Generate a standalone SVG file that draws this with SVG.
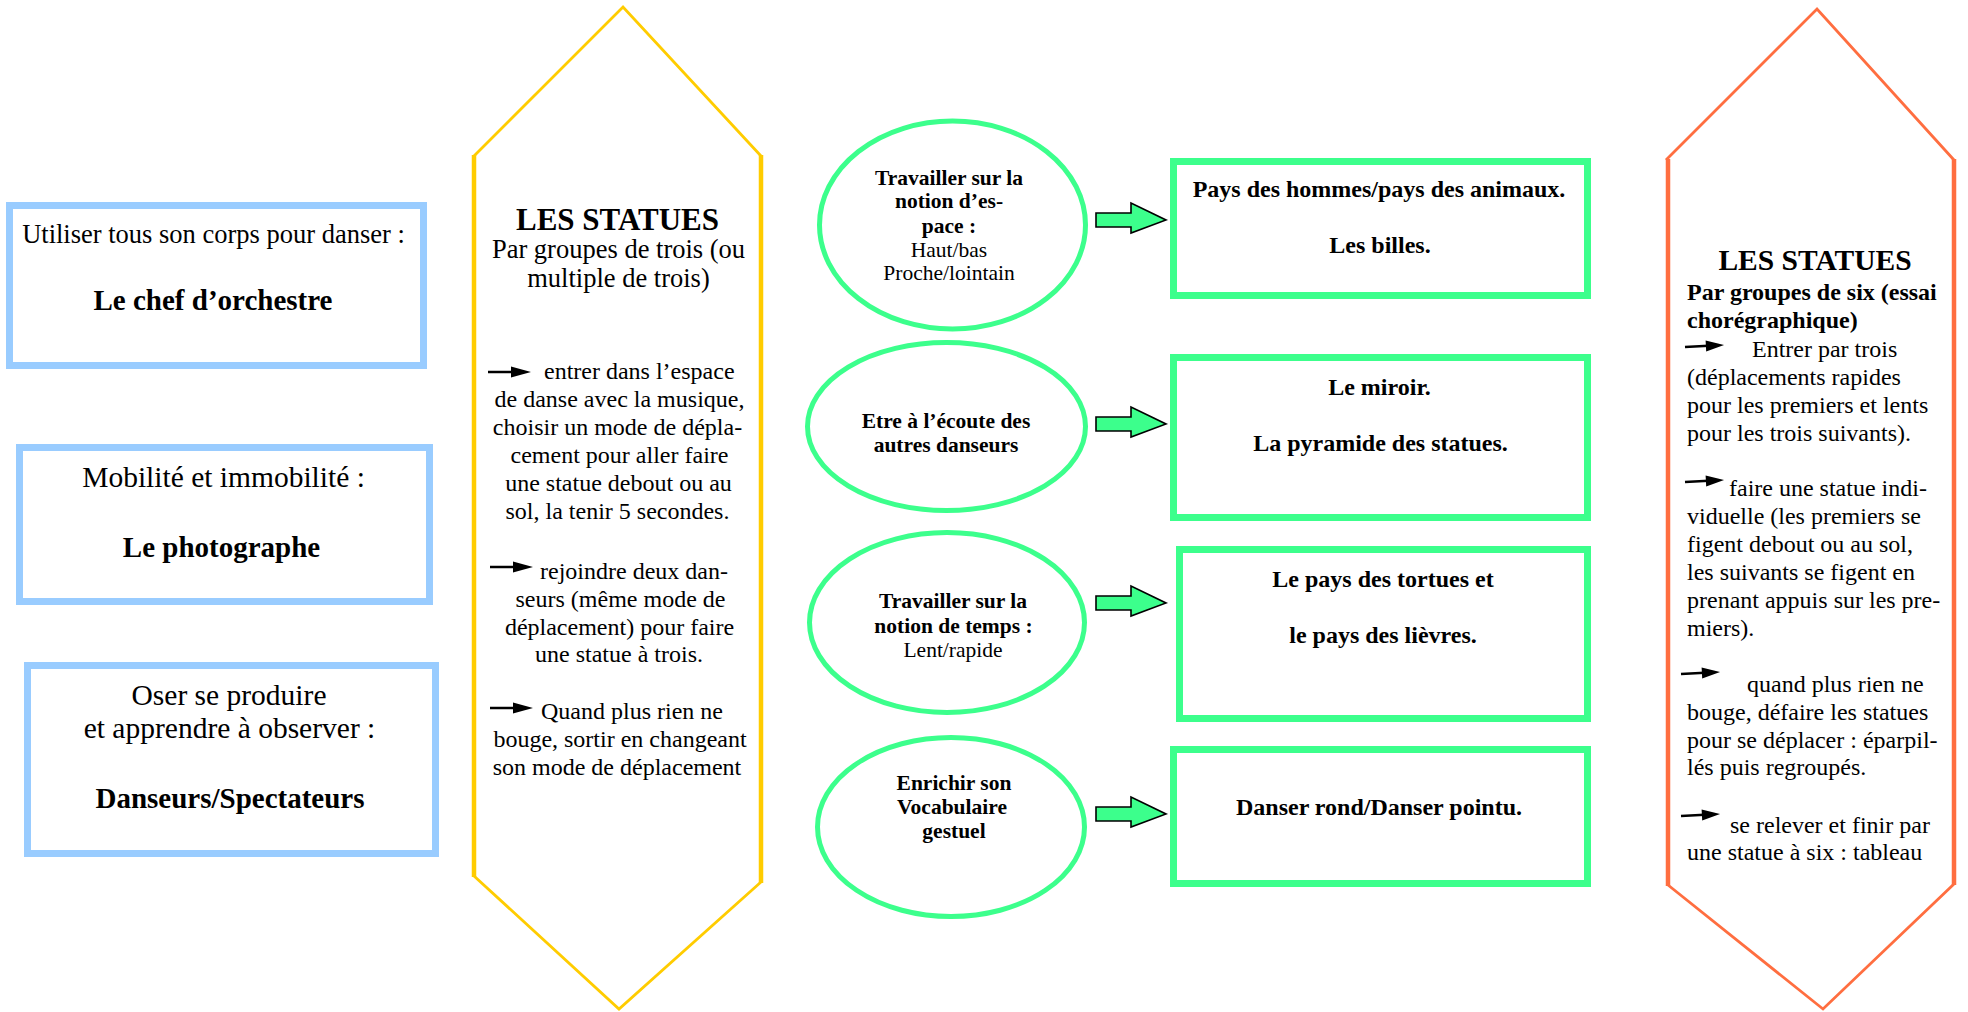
<svg xmlns="http://www.w3.org/2000/svg" xmlns:xlink="http://www.w3.org/1999/xlink" width="1968" height="1012" viewBox="0 0 1968 1012">
<style>
text{font-family:"Liberation Serif","Times New Roman",serif;fill:#000}
.b{font-weight:bold}
.m{text-anchor:middle}
.blue{fill:#fff;stroke:#99CCFF;stroke-width:7}
.grn{fill:#fff;stroke:#3CFF8C;stroke-width:7}
.ell{fill:#fff;stroke:#3CFF8C;stroke-width:5}
.yel{fill:none;stroke:#FFCC00}
.org{fill:none;stroke:#FF6E40}
.ba{fill:#3CFF8C;stroke:#000;stroke-width:1.6;stroke-linejoin:miter}
.t24{font-size:24px}
.t21{font-size:21.5px}
</style>
<defs>
<path id="barrow" d="M0,-7 H35 V-17 L70,0 L35,13 V7 H0 Z"/>
<g id="tarrow"><line x1="0" y1="0" x2="26" y2="0" stroke="#000" stroke-width="2.5"/><polygon points="23,-5.5 43,0 23,5.5" fill="#000"/></g>
</defs>
<rect width="1968" height="1012" fill="#fff"/>

<g id="box1">
<rect class="blue" x="9.5" y="205.5" width="414" height="160"/>
<text class="m" x="213.5" y="243" font-size="26.5">Utiliser tous son corps pour danser :</text>
<text class="m b" x="213" y="310" font-size="29">Le chef d’orchestre</text>
</g>
<g id="box2">
<rect class="blue" x="19.5" y="447.5" width="410" height="154"/>
<text class="m" x="223.5" y="487" font-size="29.5">Mobilité et immobilité :</text>
<text class="m b" x="221.5" y="557" font-size="29">Le photographe</text>
</g>
<g id="box3">
<rect class="blue" x="27.5" y="665.5" width="408" height="188"/>
<text class="m" x="229" y="705" font-size="29.5">Oser se produire</text>
<text class="m" x="229.5" y="738" font-size="29.5">et apprendre à observer :</text>
<text class="m b" x="230" y="808" font-size="29">Danseurs/Spectateurs</text>
</g>

<g id="hex-left">
<polyline class="yel" stroke-width="2.8" points="474,156 623,7 761,156"/>
<polyline class="yel" stroke-width="2.8" points="474,876 619,1009 761,882"/>
<line class="yel" stroke-width="4.5" x1="474" y1="155" x2="474" y2="877"/>
<line class="yel" stroke-width="4.5" x1="761" y1="155" x2="761" y2="883"/>
<text class="m b" x="617.5" y="230" font-size="31">LES STATUES</text>
<text class="m" x="618.5" y="258" font-size="26.5">Par groupes de trois (ou</text>
<text class="m" x="618.5" y="287" font-size="26.5">multiple de trois)</text>
<g class="t24">
<use xlink:href="#tarrow" x="488" y="372"/>
<text x="544" y="379">entrer dans l’espace</text>
<text class="m" x="619.5" y="407">de danse avec la musique,</text>
<text class="m" x="617.5" y="435">choisir un mode de dépla-</text>
<text class="m" x="619.5" y="463">cement pour aller faire</text>
<text class="m" x="618.5" y="491">une statue debout ou au</text>
<text class="m" x="617.5" y="519">sol, la tenir 5 secondes.</text>
<use xlink:href="#tarrow" x="490" y="567"/>
<text x="540" y="579">rejoindre deux dan-</text>
<text class="m" x="620.5" y="607">seurs (même mode de</text>
<text class="m" x="619.5" y="635">déplacement) pour faire</text>
<text class="m" x="619" y="662">une statue à trois.</text>
<use xlink:href="#tarrow" x="490" y="708"/>
<text x="541" y="719">Quand plus rien ne</text>
<text class="m" x="620" y="747">bouge, sortir en changeant</text>
<text class="m" x="617" y="775">son mode de déplacement</text>
</g>
</g>

<g id="ellipse1">
<ellipse class="ell" cx="952.5" cy="225" rx="133" ry="104"/>
<text class="m b t21" x="949" y="185">Travailler sur la</text>
<text class="m b t21" x="949" y="208">notion d’es-</text>
<text class="m b t21" x="949" y="233">pace :</text>
<text class="m t21" x="949" y="257">Haut/bas</text>
<text class="m t21" x="949" y="280">Proche/lointain</text>
</g>
<g id="ellipse2">
<ellipse class="ell" cx="946.5" cy="426.5" rx="139" ry="84"/>
<text class="m b t21" x="946" y="428">Etre à l’écoute des</text>
<text class="m b t21" x="946" y="452">autres danseurs</text>
</g>
<g id="ellipse3">
<ellipse class="ell" cx="947" cy="622.5" rx="137.5" ry="90"/>
<text class="m b t21" x="953" y="608">Travailler sur la</text>
<text class="m b t21" x="953.5" y="633">notion de temps :</text>
<text class="m t21" x="953" y="657">Lent/rapide</text>
</g>
<g id="ellipse4">
<ellipse class="ell" cx="951" cy="827" rx="133.5" ry="89.5"/>
<text class="m b t21" x="954" y="790">Enrichir son</text>
<text class="m b t21" x="952" y="814">Vocabulaire</text>
<text class="m b t21" x="954" y="838">gestuel</text>
</g>

<g id="rect1">
<rect class="grn" x="1173.5" y="161.5" width="414" height="134"/>
<text class="m b t24" x="1379" y="197">Pays des hommes/pays des animaux.</text>
<text class="m b t24" x="1380" y="253">Les billes.</text>
</g>
<g id="rect2">
<rect class="grn" x="1173.5" y="357.5" width="414" height="160"/>
<text class="m b t24" x="1379.5" y="395">Le miroir.</text>
<text class="m b t24" x="1380.5" y="451">La pyramide des statues.</text>
</g>
<g id="rect3">
<rect class="grn" x="1179.5" y="549.5" width="408" height="169"/>
<text class="m b t24" x="1383" y="587">Le pays des tortues et</text>
<text class="m b t24" x="1383" y="643">le pays des lièvres.</text>
</g>
<g id="rect4">
<rect class="grn" x="1173.5" y="749.5" width="414" height="134"/>
<text class="m b t24" x="1379" y="815">Danser rond/Danser pointu.</text>
</g>

<g id="hex-right">
<polyline class="org" stroke-width="2.8" points="1666,160 1817,9 1954,160"/>
<polyline class="org" stroke-width="2.8" points="1668,885 1823,1009 1954,884"/>
<line class="org" stroke-width="4.5" x1="1668" y1="159" x2="1668" y2="886"/>
<line class="org" stroke-width="4.5" x1="1954" y1="159" x2="1954" y2="885"/>
<text class="m b" x="1815" y="270" font-size="29.5">LES STATUES</text>
<g class="t24">
<text class="b" x="1687" y="300">Par groupes de six (essai</text>
<text class="b" x="1687" y="328">chorégraphique)</text>
<use xlink:href="#tarrow" transform="translate(1685,347) rotate(-3) scale(0.91,1)"/>
<text x="1752" y="357">Entrer par trois</text>
<text x="1687" y="385">(déplacements rapides</text>
<text x="1687" y="413">pour les premiers et lents</text>
<text x="1687" y="441">pour les trois suivants).</text>
<use xlink:href="#tarrow" transform="translate(1685,482) rotate(-3) scale(0.91,1)"/>
<text x="1729" y="496">faire une statue indi-</text>
<text x="1687" y="524">viduelle (les premiers se</text>
<text x="1687" y="552">figent debout ou au sol,</text>
<text x="1687" y="580">les suivants se figent en</text>
<text x="1687" y="608">prenant appuis sur les pre-</text>
<text x="1687" y="636">miers).</text>
<use xlink:href="#tarrow" transform="translate(1681,674) rotate(-3) scale(0.91,1)"/>
<text x="1747" y="692">quand plus rien ne</text>
<text x="1687" y="720">bouge, défaire les statues</text>
<text x="1687" y="748">pour se déplacer : éparpil-</text>
<text x="1687" y="775">lés puis regroupés.</text>
<use xlink:href="#tarrow" transform="translate(1681,816) rotate(-3) scale(0.91,1)"/>
<text x="1730" y="833">se relever et finir par</text>
<text x="1687" y="860">une statue à six : tableau</text>
</g>
</g>

<g id="connectors">
<use class="ba" xlink:href="#barrow" x="1096" y="220"/>
<use class="ba" xlink:href="#barrow" x="1096" y="424"/>
<use class="ba" xlink:href="#barrow" x="1096" y="603"/>
<use class="ba" xlink:href="#barrow" x="1096" y="814"/>
</g>
</svg>
